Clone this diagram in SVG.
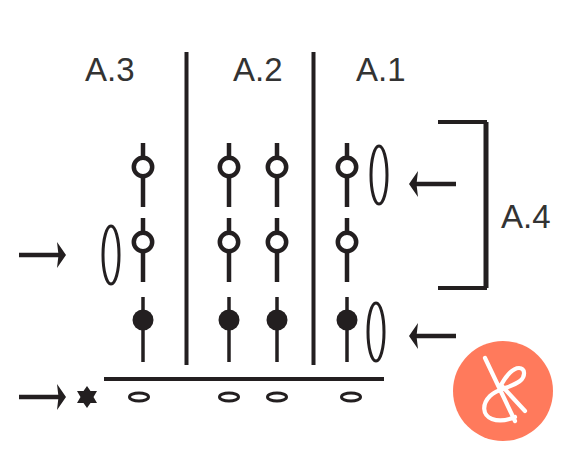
<svg xmlns="http://www.w3.org/2000/svg" width="570" height="456" viewBox="0 0 570 456">
<style>
.t{font-family:"Liberation Sans",Arial,sans-serif;font-size:33px;fill:#333}
.k{stroke:#231f20;fill:none}
.w4{stroke-width:4}
.w5{stroke-width:5}
.st{stroke:#231f20;stroke-width:4.500;fill:none}
.st2{stroke:#231f20;stroke-width:3.500;fill:none}
.o{fill:#fff;stroke:#231f20;stroke-width:4.500}
.f{fill:#231f20}
.e{fill:#fff;stroke:#231f20;stroke-width:3}
.a{stroke:#231f20;stroke-width:4.500;fill:none}
</style>
<defs>
<g id="open"><path class="st" d="M0-24V40"/><circle class="o" r="9.200"/></g>
<g id="fill"><path class="st2" d="M0-23V42"/><circle class="f" r="10.500"/></g>
<g id="ar"><path class="a" d="M0 0H40"/><path class="f" d="M38-13L47 0L38 13L39.500 0Z"/></g>
<g id="al"><path class="a" d="M47 0H7"/><path class="f" d="M9-13L0 0L9 13L7.500 0Z"/></g>
</defs>
<rect width="570" height="456" fill="#fff"/>
<text class="t" x="85" y="80.500">A.3</text>
<text class="t" x="233" y="80.500">A.2</text>
<text class="t" x="356" y="80.500">A.1</text>
<text class="t" x="501" y="228">A.4</text>
<g id="connectors">
<path class="k w4" d="M186.500 52V365M313.500 52V365"/>
<path class="k w4" d="M104 379H384"/>
<path class="k w4" d="M438 122H487M438 288H487"/>
<path class="k w5" d="M486 122V288"/>
<use href="#ar" x="19" y="255"/>
<use href="#ar" x="19" y="397"/>
<use href="#al" x="409" y="184"/>
<use href="#al" x="409" y="336"/>
</g>
<g id="col-a3"><use href="#open" x="143" y="167"/><use href="#open" x="143" y="242"/><use href="#fill" x="143" y="320"/></g>
<g id="col-a2a"><use href="#open" x="229" y="167"/><use href="#open" x="229" y="242"/><use href="#fill" x="229" y="320"/></g>
<g id="col-a2b"><use href="#open" x="277" y="167"/><use href="#open" x="277" y="242"/><use href="#fill" x="277" y="320"/></g>
<g id="col-a1"><use href="#open" x="347" y="167"/><use href="#open" x="347" y="242"/><use href="#fill" x="347" y="320"/></g>
<g id="ovals">
<ellipse class="e" cx="111" cy="255" rx="8" ry="29"/>
<ellipse class="e" cx="379" cy="175" rx="8" ry="29"/>
<ellipse class="e" cx="376" cy="332" rx="8" ry="29"/>
<ellipse class="e" cx="139" cy="397" rx="9.500" ry="4"/>
<ellipse class="e" cx="229" cy="397" rx="9.500" ry="4"/>
<ellipse class="e" cx="277" cy="397" rx="9.500" ry="4"/>
<ellipse class="e" cx="351" cy="397" rx="9.500" ry="4"/>
</g>
<g id="star"><path class="f" d="M87 386L90.500 391L97 391L93.500 397L97 403L90.500 403L87 408L83.500 403L77 403L80.500 397L77 391L83.500 391Z"/></g>
<g id="logo">
<circle cx="503" cy="391" r="50" fill="#ff7a5c"/>
<path d="M485 358L515 421M525 411L501 385C506 376 513 368 519 368C525 368 526 376 520 381C511 388 498 388 490 396C482 404 482 415 492 419C500 422 508 420 515 417" fill="none" stroke="#fff" stroke-width="4.200" stroke-linecap="round"/>
</g>
</svg>
